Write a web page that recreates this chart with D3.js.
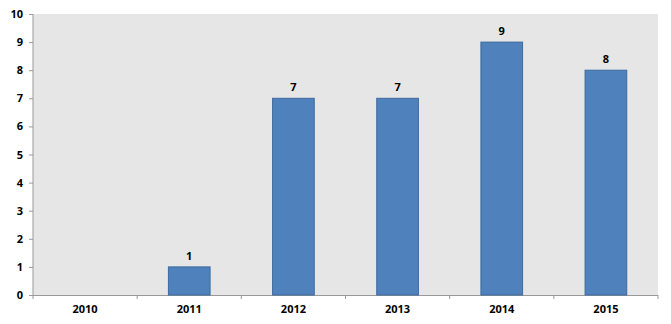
<!DOCTYPE html>
<html>
<head>
<meta charset="utf-8">
<script src="https://cdn.jsdelivr.net/npm/d3@7"></script>
<style>
  body { margin: 0; background: #fff; }
  text { font-family: "Open Sans", "Liberation Sans", sans-serif; font-weight: bold; font-size: 11px; fill: #000; }
</style>
</head>
<body>
<div id="holder"></div>
<script>
const years = ['2010', '2011', '2012', '2013', '2014', '2015'];
const counts = [0, 1, 7, 7, 9, 8];
const yTicks = [0, 1, 2, 3, 4, 5, 6, 7, 8, 9, 10];

const w = 671, h = 324;
const padL = 33, padR = 658, padT = 14, padB = 295;

const rows = years.map((y, i) => ({ year: y, count: counts[i] })).filter(d => d.count > 0);

const svg = d3.select('#holder')
    .append('svg')
    .attr('width', w)
    .attr('height', h);

const xScale = d3.scaleBand()
    .domain(years)
    .range([padL, padR])
    .paddingInner(0.6)
    .paddingOuter(0.3);

const yScale = d3.scaleLinear()
    .domain([0, 10])
    .range([padB, padT]);

// plot background
svg.append('rect')
    .attr('x', padL)
    .attr('y', padT)
    .attr('width', padR - padL)
    .attr('height', padB - padT)
    .attr('fill', '#e6e6e6');

const xAxis = d3.axisBottom(xScale).tickSize(0).tickPadding(10);
const gx = svg.append('g')
    .attr('transform', 'translate(0,' + padB + ')')
    .call(xAxis);
gx.select('.domain').remove();
gx.selectAll('text').style('font-size', '11px');

// tick marks sit on category boundaries
const step = (padR - padL) / years.length;
svg.selectAll('.xtick')
    .data(d3.range(years.length + 1))
    .enter()
    .append('line')
    .attr('x1', i => padL + i * step)
    .attr('x2', i => padL + i * step)
    .attr('y1', padB)
    .attr('y2', padB + 4)
    .attr('stroke', '#999');

const yAxis = d3.axisLeft(yScale).tickValues(yTicks).tickSize(4).tickPadding(6).tickFormat(d3.format('d'));
const gy = svg.append('g')
    .attr('transform', 'translate(' + padL + ',0)')
    .call(yAxis);
gy.select('.domain').attr('stroke', '#999').attr('d', 'M0,' + padT + 'V' + padB);
gy.selectAll('line').attr('stroke', '#999');
gy.selectAll('text').style('font-size', '11px');

svg.append('line')
    .attr('x1', padL)
    .attr('x2', padR)
    .attr('y1', padB + 0.5)
    .attr('y2', padB + 0.5)
    .attr('stroke', '#999');

svg.selectAll('.bar')
    .data(rows)
    .enter()
    .append('rect')
    .attr('class', 'bar')
    .attr('x', d => xScale(d.year))
    .attr('y', d => yScale(d.count))
    .attr('width', xScale.bandwidth())
    .attr('height', d => padB - yScale(d.count))
    .attr('fill', '#4f81bd')
    .attr('stroke', '#3e6a9c')
    .attr('stroke-width', 1);

svg.selectAll('.lbl')
    .data(rows)
    .enter()
    .append('text')
    .attr('class', 'lbl')
    .attr('x', d => xScale(d.year) + xScale.bandwidth() / 2)
    .attr('y', d => yScale(d.count) - 7)
    .attr('text-anchor', 'middle')
    .text(d => d.count);
</script>
</body>
</html>
